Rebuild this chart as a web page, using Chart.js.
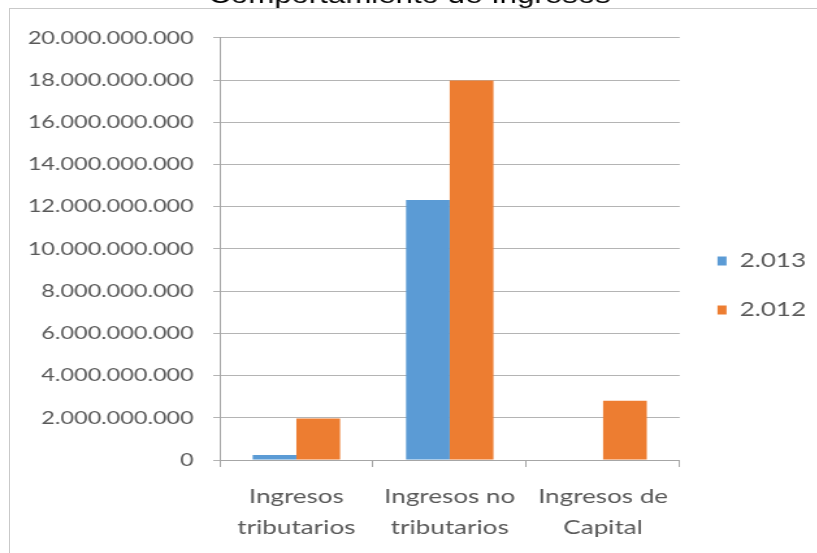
<!DOCTYPE html>
<html>
<head>
<meta charset="utf-8">
<script src="https://cdn.jsdelivr.net/npm/chart.js@4"></script>
<style>
  html, body { margin: 0; padding: 0; background: #fff; overflow: hidden; width: 817px; height: 553px; }
  #frame { position: absolute; left: 9px; top: 8px; width: 900px; height: 700px; border: 1px solid #c9c9c9; }
  #wrap { position: absolute; left: 0; top: -18px; width: 630px; height: 571px; transform: scaleX(1.3); transform-origin: 0 0; }
</style>
</head>
<body>
<div id="frame"></div>
<div id="wrap"><canvas id="ingresos"></canvas></div>
<script>
// categories and series
var categories = [["Ingresos", "tributarios"], ["Ingresos no", "tributarios"], ["Ingresos de", "Capital"]];
var seriesNames = ["2.013", "2.012"];
var values2013 = [240000000, 12320000000, 0];
var values2012 = [1960000000, 17980000000, 2810000000];
var yTicks = [0, 2000000000, 4000000000, 6000000000, 8000000000, 10000000000,
              12000000000, 14000000000, 16000000000, 18000000000, 20000000000];

document.addEventListener("DOMContentLoaded", function () {
    // dots as thousand separators, like the original sheet
    function formatMiles(v) {
        return String(Math.round(v)).replace(/\B(?=(\d{3})+(?!\d))/g, ".");
    }

    var config = {
        type: "bar",
        data: {
            labels: categories,
            datasets: [{
                    label: seriesNames[0],
                    data: values2013,
                    backgroundColor: "#5B9BD5",
                    borderWidth: 0,
                },
                {
                    label: seriesNames[1],
                    data: values2012,
                    backgroundColor: "#ED7D31",
                    borderWidth: 0,
                },
            ],
        },
        options: {
            responsive: true,
            maintainAspectRatio: false,
            animation: false,
            datasets: {
                bar: { barPercentage: 1, categoryPercentage: 0.57 }
            },
            // negative bottom padding pushes the legend column down a little
            layout: { padding: { left: 0, right: 0, top: 0, bottom: -36 } },
            scales: {
                x: {
                    grid: { drawOnChartArea: false, drawTicks: true, tickLength: 7, color: "#a6a6a6" },
                    border: { display: true, color: "#a6a6a6" },
                    ticks: {
                        color: "#595959",
                        padding: 14,
                        maxRotation: 0,
                        font: { family: "Lato", size: 20, lineHeight: 1.55 },
                    },
                    afterFit: function (scale) { scale.height = 129; },
                },
                y: {
                    min: 0,
                    max: 20000000000,
                    afterBuildTicks: function (scale) {
                        scale.ticks = yTicks.map(function (v) { return { value: v }; });
                    },
                    grid: { color: "#b4b4b4", tickLength: 5 },
                    border: { display: true, color: "#a6a6a6" },
                    ticks: {
                        color: "#595959",
                        padding: 15,
                        font: { family: "Lato", size: 18 },
                        callback: function (value) { return formatMiles(value); },
                    },
                    afterFit: function (scale) { scale.width = 169; },
                },
            },
            plugins: {
                legend: {
                    position: "right",
                    labels: {
                        boxWidth: 7,
                        boxHeight: 9,
                        padding: 29,
                        color: "#595959",
                        font: { family: "Lato", size: 20 },
                    },
                },
                title: {
                    display: true,
                    text: "Comportamiento de Ingresos",
                    color: "#000",
                    padding: { top: 0, bottom: 27 },
                    font: { family: "Liberation Sans", size: 24, weight: "normal" },
                },
                tooltip: { enabled: false },
            },
        },
    };

    var ctx = document.getElementById("ingresos");
    new Chart(ctx, config);
});
</script>
</body>
</html>
